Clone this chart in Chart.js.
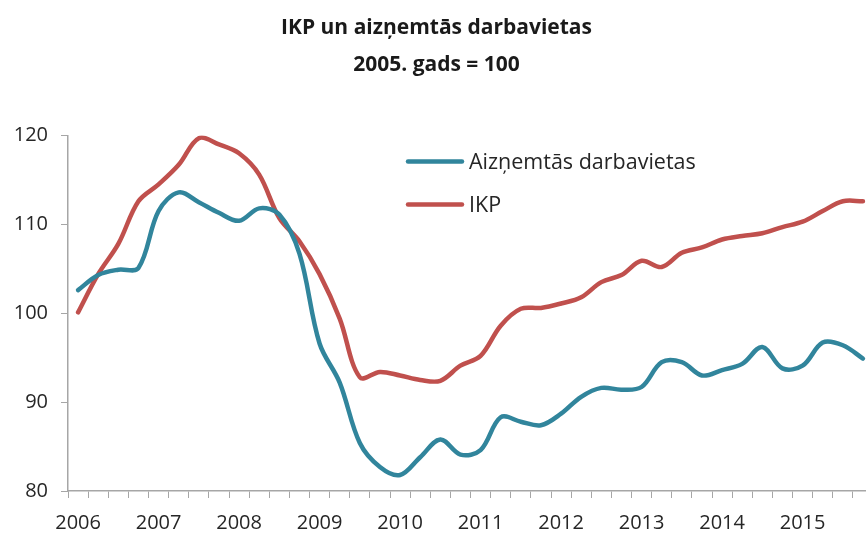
<!DOCTYPE html>
<html>
<head>
<meta charset="utf-8">
<script src="https://cdn.jsdelivr.net/npm/chart.js@4/dist/chart.umd.min.js"></script>
<style>
    html, body { margin: 0; padding: 0; background: #fff; overflow: hidden; }
    #wrap { position: relative; width: 910px; height: 538px; }
</style>
</head>
<body>
<div id="wrap"><canvas id="gdpChart"></canvas></div>
<script>
// quarters 2006 Q1 .. 2015 Q4
const years = [2006, 2007, 2008, 2009, 2010, 2011, 2012, 2013, 2014, 2015];
const quarters = [];
years.forEach(y => { for (let q = 1; q <= 4; q++) quarters.push(y + ' Q' + q); });

const employed = [
    102.6, 104.3, 104.9, 105.1, 111.5, 113.6, 112.5, 111.3, 110.4, 111.8,
    111.1, 106.7, 96.6, 92.2, 85.4, 82.7, 81.8, 83.8, 85.8, 84.1,
    84.6, 88.3, 87.8, 87.4, 88.7, 90.6, 91.6, 91.4, 91.7, 94.5,
    94.5, 93.0, 93.6, 94.3, 96.2, 93.8, 94.1, 96.7, 96.4, 94.9
];
const gdp = [
    100.1, 104.4, 107.8, 112.6, 114.5, 116.7, 119.7, 119.0, 118.0, 115.6,
    110.7, 108.1, 104.4, 99.4, 92.8, 93.4, 93.0, 92.5, 92.4, 94.1,
    95.2, 98.6, 100.5, 100.6, 101.1, 101.8, 103.5, 104.3, 105.9, 105.2,
    106.8, 107.4, 108.3, 108.7, 109.0, 109.7, 110.3, 111.5, 112.6, 112.6
];
const yTicks = [80, 90, 100, 110, 120];

const axisColor = '#a6a6a6';
const textColor = '#262626';
const tickFont = { family: '"Open Sans", "Noto Sans", sans-serif', size: 20 };

// legend drawn inside the plot area, like the original
const innerLegend = {
    id: 'innerLegend',
    afterDraw(chart) {
        const ctx = chart.ctx;
        const area = chart.chartArea;
        const x0 = area.left + 340;
        let y = area.top + 26;
        ctx.save();
        ctx.font = '21.5px "Open Sans", "Noto Sans", sans-serif';
        ctx.textBaseline = 'middle';
        chart.data.datasets.forEach(ds => {
            ctx.strokeStyle = ds.borderColor;
            ctx.lineWidth = ds.borderWidth;
            ctx.lineCap = 'round';
            ctx.beginPath();
            ctx.moveTo(x0, y);
            ctx.lineTo(x0 + 54, y);
            ctx.stroke();
            ctx.fillStyle = textColor;
            ctx.fillText(ds.label, x0 + 61, y + 1);
            y += 43;
        });
        ctx.restore();
    }
};

const ctx = document.getElementById('gdpChart').getContext('2d');
new Chart(ctx, {
    type: 'line',
    data: {
        labels: quarters,
        datasets: [{
            label: 'Aizņemtās darbavietas',
            data: employed,
            borderColor: '#31859c',
            borderWidth: 4.5,
            borderCapStyle: 'round',
            pointRadius: 0,
            tension: 0.35,
            fill: false
        }, {
            label: 'IKP',
            data: gdp,
            borderColor: '#c0504d',
            borderWidth: 4.5,
            borderCapStyle: 'round',
            pointRadius: 0,
            tension: 0.35,
            fill: false
        }]
    },
    options: {
        responsive: true,
        maintainAspectRatio: false,
        animation: false,
        layout: {
            padding: { left: 0, right: 37, top: 10, bottom: 0 }
        },
        scales: {
            x: {
                offset: true,
                afterFit: function (axis) {
                    axis.height = 47;
                },
                grid: {
                    offset: true,
                    drawOnChartArea: false,
                    drawTicks: true,
                    tickLength: 7,
                    color: axisColor
                },
                border: { display: true, color: axisColor, width: 1.5 },
                ticks: {
                    autoSkip: false,
                    maxRotation: 0,
                    padding: 13,
                    color: textColor,
                    font: tickFont,
                    callback: function (value, index) {
                        return index % 4 === 0 ? years[index / 4] : '';
                    }
                }
            },
            y: {
                min: 80,
                max: 120,
                afterBuildTicks: function (axis) {
                    axis.ticks = yTicks.map(v => ({ value: v }));
                },
                afterFit: function (axis) {
                    axis.width = 68;
                },
                grid: {
                    drawOnChartArea: false,
                    drawTicks: true,
                    tickLength: 7,
                    color: axisColor
                },
                border: { display: true, color: axisColor, width: 1.5 },
                ticks: {
                    padding: 13,
                    color: textColor,
                    font: tickFont
                }
            }
        },
        plugins: {
            legend: { display: false },
            tooltip: { enabled: false },
            title: {
                display: true,
                text: ['IKP un aizņemtās darbavietas', '2005. gads = 100'],
                color: '#1a1a1a',
                font: { family: '"Open Sans", "Noto Sans", sans-serif', size: 21, weight: 'bold', lineHeight: 1.75 },
                padding: { top: 0, bottom: 52 }
            }
        }
    },
    plugins: [innerLegend]
});
</script>
</body>
</html>
